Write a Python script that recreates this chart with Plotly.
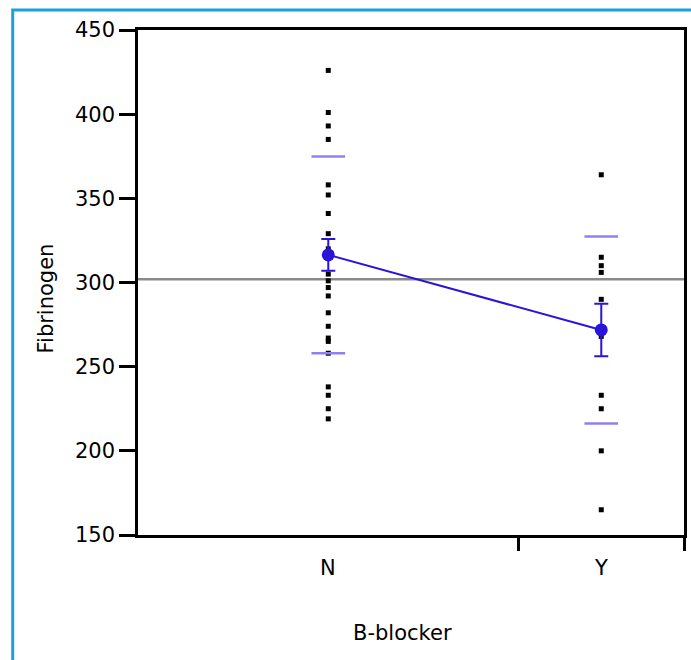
import plotly.graph_objects as go

# Fibrinogen readings by beta-blocker group
groups = ["N", "Y"]
fib_n = [426, 401, 393, 385, 358, 352, 341, 329, 320, 316, 305, 301,
         297, 292, 282, 274, 267, 265, 258, 238, 233, 225, 219]
fib_y = [364, 315, 310, 306, 290, 268, 233, 225, 200, 165]

# Group summaries: mean, standard deviation, standard error
group_mean = [316.4, 271.8]
group_sd = [58.5, 55.5]
group_se = [9.4, 15.6]
grand_mean = 302.0

y_ticks = [150, 200, 250, 300, 350, 400, 450]

W, H = 691, 660
L, R, T, B = 138, 4, 30, 125
PW, PH = W - L - R, H - T - B

BLUE = "#2A14DC"
PURPLE = "#8F80F0"
FONT = "DejaVu Sans, Verdana, sans-serif"
FS = 21

# Each group gets a slice of the x axis proportional to its size
counts = [len(fib_n), len(fib_y)]
edges = [0, counts[0], counts[0] + counts[1]]
centers = [(edges[i] + edges[i + 1]) / 2 for i in range(2)]

fig = go.Figure()

# Grand mean reference line
fig.add_trace(go.Scatter(
    x=[edges[0], edges[-1]], y=[grand_mean, grand_mean], mode="lines",
    line=dict(color="#8A8A8A", width=2.5), hoverinfo="skip", showlegend=False))

# Raw observations
for cx, vals in zip(centers, [fib_n, fib_y]):
    fig.add_trace(go.Scatter(
        x=[cx] * len(vals), y=vals, mode="markers",
        marker=dict(symbol="square", size=5, color="black", line=dict(width=0)),
        showlegend=False))

# Mean +/- 1 SD markers
sd_x, sd_y = [], []
for cx, m, s in zip(centers, group_mean, group_sd):
    sd_x += [cx, cx]
    sd_y += [m + s, m - s]
fig.add_trace(go.Scatter(
    x=sd_x, y=sd_y, mode="markers",
    marker=dict(symbol="line-ew", size=24, line=dict(color=PURPLE, width=2.5)),
    showlegend=False))

# Means joined by a line, with error bars
fig.add_trace(go.Scatter(
    x=centers, y=group_mean, mode="lines+markers",
    line=dict(color=BLUE, width=2),
    marker=dict(symbol="circle", size=13, color=BLUE),
    error_y=dict(type="data", array=group_se, color=BLUE, thickness=2, width=7),
    showlegend=False))

annotations = []
for cx, g in zip(centers, groups):
    annotations.append(dict(
        x=cx, xref="x", y=(H - 568 - B) / PH, yref="paper", text=g,
        showarrow=False, xanchor="center", yanchor="middle",
        font=dict(family=FONT, size=FS, color="black")))
annotations.append(dict(
    x=(404 - L) / PW, xref="paper", y=(H - 633 - B) / PH, yref="paper",
    text="B-blocker", showarrow=False, xanchor="center", yanchor="middle",
    font=dict(family=FONT, size=FS, color="black")))
annotations.append(dict(
    x=(45 - L) / PW, xref="paper", y=(H - 299 - B) / PH, yref="paper",
    text="Fibrinogen", textangle=-90, showarrow=False,
    xanchor="center", yanchor="middle",
    font=dict(family=FONT, size=FS, color="black")))

# Light blue frame around the report box
shapes = [dict(
    type="rect", xref="paper", yref="paper",
    x0=(12 - L) / PW, x1=(W + 20 - L) / PW,
    y0=(H - 700 - B) / PH, y1=1 + (T - 10) / PH,
    line=dict(color="#1BA1E2", width=3), fillcolor="rgba(0,0,0,0)", layer="below")]

fig.update_layout(
    width=W, height=H, margin=dict(l=L, r=R, t=T, b=B),
    paper_bgcolor="white", plot_bgcolor="white",
    font=dict(family=FONT, size=FS, color="black"),
    annotations=annotations, shapes=shapes,
    xaxis=dict(range=[edges[0], edges[-1]], tickvals=edges[1:], ticktext=["", ""],
               ticks="outside", ticklen=13, tickwidth=2.5, tickcolor="black",
               showline=True, linecolor="black", linewidth=2.5, mirror=True,
               showgrid=False, zeroline=False, fixedrange=True),
    yaxis=dict(range=[150, 450], tickvals=y_ticks, ticks="outside", ticklen=16,
               tickwidth=2.5, tickcolor="black", showline=True, linecolor="black",
               linewidth=2.5, mirror=True, showgrid=False, zeroline=False,
               tickfont=dict(family=FONT, size=FS), ticklabelstandoff=0),
)

fig.write_html("out.html")
